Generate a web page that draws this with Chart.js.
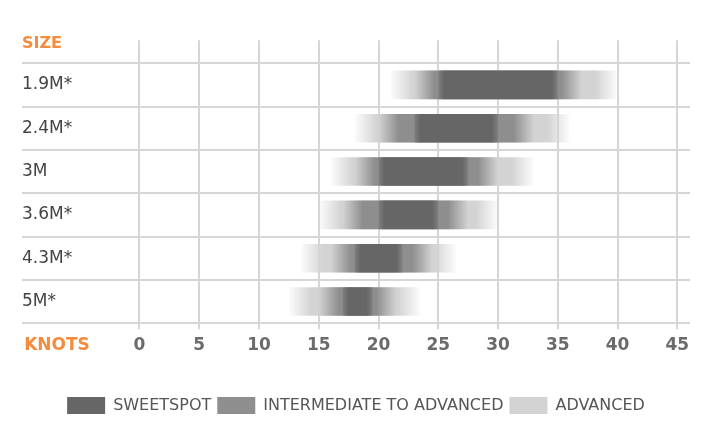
<!DOCTYPE html>
<html>
<head>
<meta charset="utf-8">
<script src="https://cdn.jsdelivr.net/npm/chart.js@4/dist/chart.umd.min.js"></script>
<style>
  html, body { margin: 0; padding: 0; background: #fff; }
  #wrap { width: 707px; height: 426px; }
</style>
</head>
<body>
<div id="wrap"><canvas id="kiteChart"></canvas></div>
<script>
const sizes = ['1.9M*', '2.4M*', '3M', '3.6M*', '4.3M*', '5M*'];
const sweetspot = [[25, 35], [23, 30], [20, 27.5], [20, 25], [18, 22], [17, 19.5]];
const intermediate = [[23, 37], [20, 33], [18, 30], [17, 27.5], [16, 24.5], [15, 21.5]];
const advanced = [[21, 40], [18, 36], [16, 33], [15, 30], [13.5, 26.5], [12.5, 23.5]];
const knotTicks = [0, 5, 10, 15, 20, 25, 30, 35, 40, 45];
const knotsLabelAt = -6.9;

const FONT = 'DejaVu Sans';
const ORANGE = '#f68b3c';
const GRID = '#d6d6d6';
const legendColors = ['#666666', '#8e8e8e', '#d3d3d3'];

// fuzzy edges: horizontal gradient built from the bar's own scale pixels
function fade(solid, edge, px) {
    return function(ctx) {
        if (ctx.type !== 'data' || !ctx.raw) return solid;
        const xs = ctx.chart.scales.x;
        const l = xs.getPixelForValue(ctx.raw[0]);
        const r = xs.getPixelForValue(ctx.raw[1]);
        if (!isFinite(l) || !isFinite(r) || r - l < 1) return solid;
        const f = Math.min(px / (r - l), 0.45);
        const g = ctx.chart.ctx.createLinearGradient(l, 0, r, 0);
        g.addColorStop(0, edge);
        g.addColorStop(f, solid);
        g.addColorStop(1 - f, solid);
        g.addColorStop(1, edge);
        return g;
    };
}

new Chart(document.getElementById('kiteChart'), {
    type: 'bar',
    data: {
        labels: sizes,
        datasets: [
            {label: 'SWEETSPOT', data: sweetspot, backgroundColor: fade('#666666', 'rgba(102,102,102,0.35)', 6)},
            {label: 'INTERMEDIATE TO ADVANCED', data: intermediate, backgroundColor: fade('#8e8e8e', 'rgba(142,142,142,0)', 20)},
            {label: 'ADVANCED', data: advanced, backgroundColor: fade('#d3d3d3', 'rgba(215,215,215,0.08)', 22)}
        ]
    },
    options: {
        indexAxis: 'y',
        responsive: true,
        maintainAspectRatio: false,
        animation: false,
        layout: {padding: {left: 22, right: 17, top: 0, bottom: 2}},
        datasets: {bar: {grouped: false, barPercentage: 0.66, categoryPercentage: 1, borderWidth: 0}},
        plugins: {
            tooltip: {enabled: false},
            title: {
                display: true, text: 'SIZE', align: 'start', color: ORANGE,
                font: {family: FONT, size: 16, weight: 'bold'},
                padding: {top: 34, bottom: -13}
            },
            legend: {
                position: 'bottom',
                title: {display: true, text: '', font: {size: 2}, padding: {top: 27, bottom: 0}},
                labels: {
                    boxWidth: 38, boxHeight: 17, padding: 6, color: '#555',
                    font: {family: FONT, size: 16},
                    generateLabels: chart => Chart.defaults.plugins.legend.labels.generateLabels(chart)
                        .map((item, i) => Object.assign(item, {fillStyle: legendColors[i], lineWidth: 0, strokeStyle: 'rgba(0,0,0,0)'}))
                }
            }
        },
        scales: {
            x: {
                type: 'linear', position: 'bottom', min: -9.83, max: 46.06,
                afterBuildTicks: axis => { axis.ticks = [knotsLabelAt].concat(knotTicks).map(v => ({value: v})); },
                ticks: {
                    autoSkip: false, maxRotation: 0, padding: 6,
                    font: {family: FONT, size: 17, weight: 'bold'},
                    color: c => (c.tick && c.tick.value < 0) ? ORANGE : '#6b6b6b',
                    callback: v => v < 0 ? 'KNOTS' : v
                },
                grid: {
                    color: c => (c.tick && c.tick.value < 0) ? 'rgba(0,0,0,0)' : GRID,
                    lineWidth: 2, tickLength: 6
                },
                border: {display: false}
            },
            x2: {
                type: 'linear', position: 'top', min: -9.83, max: 46.06,
                afterBuildTicks: axis => { axis.ticks = knotTicks.map(v => ({value: v})); },
                ticks: {display: false},
                grid: {drawOnChartArea: false, color: GRID, lineWidth: 2, tickLength: 23},
                border: {display: false}
            },
            y: {
                grid: {color: GRID, lineWidth: 2, drawTicks: false},
                border: {display: false},
                ticks: {mirror: true, padding: 0, color: '#444', font: {family: FONT, size: 17}}
            }
        }
    }
});
</script>
</body>
</html>
